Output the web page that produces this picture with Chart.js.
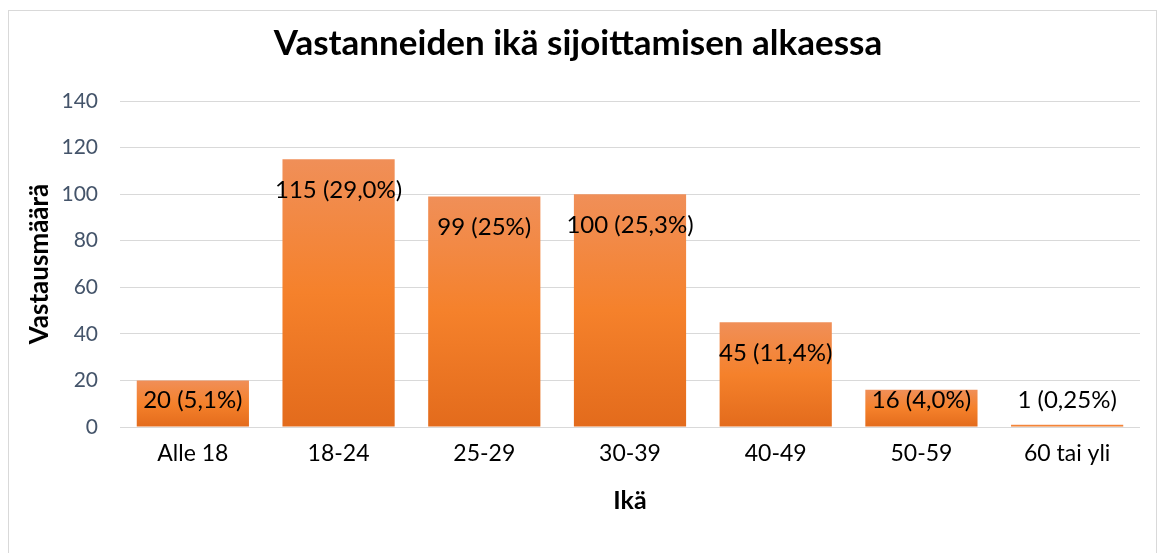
<!DOCTYPE html>
<html>
<head>
<meta charset="utf-8">
<script src="https://cdn.jsdelivr.net/npm/chart.js@4.4.0/dist/chart.umd.min.js"></script>
<style>
  html, body { margin: 0; padding: 0; background: #fff; }
  #wrap { width: 1159px; height: 553px; position: relative; }
</style>
</head>
<body>
<div id="wrap"><canvas id="chart" width="1159" height="553"></canvas></div>
<script>
// chart data
const titleText = 'Vastanneiden ikä sijoittamisen alkaessa';
const ageGroups = ['Alle 18', '18-24', '25-29', '30-39', '40-49', '50-59', '60 tai yli'];
const answerCounts = [20, 115, 99, 100, 45, 16, 1];
const shareLabels = ['5,1%', '29,0%', '25%', '25,3%', '11,4%', '4,0%', '0,25%'];
const yTicks = [0, 20, 40, 60, 80, 100, 120, 140];

const FONT = 'Lato, "Open Sans", sans-serif';

// orange gradient for each bar, light at top
function barFill(context) {
    const chart = context.chart;
    if (!chart.chartArea || context.raw === undefined) return '#F5822A';
    const y = chart.scales.y;
    const top = y.getPixelForValue(context.raw);
    const base = y.getPixelForValue(0);
    const g = chart.ctx.createLinearGradient(0, top, 0, Math.max(base, top + 1));
    g.addColorStop(0, '#F08F58');
    g.addColorStop(0.5, '#F5812B');
    g.addColorStop(1, '#E36B1C');
    return g;
}

// frame + title
const framePlugin = {
    id: 'frame',
    beforeDraw(chart) {
        const c = chart.ctx;
        c.save();
        c.fillStyle = '#fff';
        c.fillRect(0, 0, chart.width, chart.height);
        c.strokeStyle = '#D9D9D9';
        c.lineWidth = 1;
        c.strokeRect(8.5, 10.5, 1148, 600);
        c.restore();
    },
    afterDraw(chart) {
        const c = chart.ctx;
        c.save();
        c.font = 'bold 35px ' + FONT;
        c.fillStyle = '#000';
        c.textAlign = 'center';
        c.textBaseline = 'alphabetic';
        c.fillText(titleText, 578, 55);
        c.restore();
    }
};

// value labels near the top of each bar
const valueLabels = {
    id: 'valueLabels',
    afterDatasetsDraw(chart) {
        const c = chart.ctx;
        const meta = chart.getDatasetMeta(0);
        c.save();
        c.font = '24px ' + FONT;
        c.fillStyle = '#000';
        c.textAlign = 'center';
        c.textBaseline = 'middle';
        meta.data.forEach((bar, i) => {
            let ty = bar.y + 31;
            if (ty > bar.base - 26) ty = bar.base - 26;
            c.fillText(answerCounts[i] + ' (' + shareLabels[i] + ')', bar.x, ty);
        });
        c.restore();
    }
};

new Chart(document.getElementById('chart'), {
    type: 'bar',
    data: {
        labels: ageGroups,
        datasets: [{
            data: answerCounts,
            backgroundColor: barFill,
            borderWidth: 0,
            barPercentage: 0.77,
            categoryPercentage: 1
        }]
    },
    options: {
        responsive: false,
        animation: false,
        layout: { padding: { top: 101, left: 8, right: 19, bottom: 37 } },
        plugins: {
            legend: { display: false },
            title: { display: false },
            tooltip: { enabled: false }
        },
        scales: {
            x: {
                grid: { display: false, drawTicks: false },
                border: { display: false },
                ticks: { color: '#000', font: { family: FONT, size: 23 }, padding: 13 },
                title: {
                    display: true, text: 'Ikä', color: '#000',
                    font: { family: FONT, size: 25, weight: 'bold' },
                    padding: { top: 8, bottom: 0 }
                },
                afterFit(scale) { scale.height = 89; }
            },
            y: {
                min: 0, max: 140,
                afterBuildTicks(scale) { scale.ticks = yTicks.map(v => ({ value: v })); },
                grid: { color: '#D9D9D9', lineWidth: 1, drawTicks: false },
                border: { display: false },
                ticks: { color: '#44546A', font: { family: FONT, size: 21 }, padding: 22 },
                title: {
                    display: true, text: 'Vastausmäärä', color: '#000',
                    font: { family: FONT, size: 26, weight: 'bold' },
                    padding: { top: 16, bottom: 0 }
                },
                afterFit(scale) { scale.width = 112; }
            }
        }
    },
    plugins: [framePlugin, valueLabels]
});
</script>
</body>
</html>
